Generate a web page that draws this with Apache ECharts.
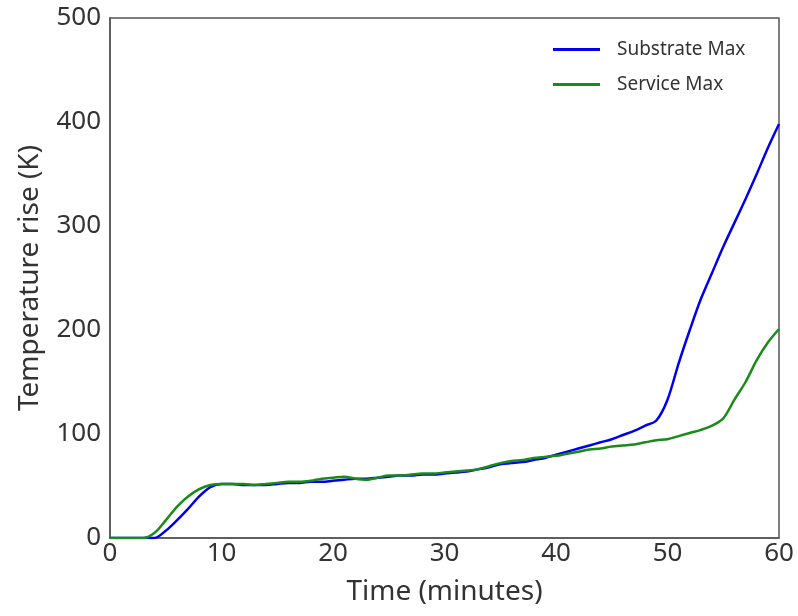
<!DOCTYPE html>
<html>
<head>
<meta charset="utf-8">
<script src="https://cdn.jsdelivr.net/npm/echarts@6/dist/echarts.min.js"></script>
<style>
  html, body { margin: 0; padding: 0; background: #fff; }
  #chart { width: 798px; height: 616px; }
</style>
</head>
<body>
<div id="chart"></div>
<script>
// time in minutes
const minutes = [0, 1, 2, 3, 4, 5, 6, 7, 8, 9, 10, 11, 12, 13, 14, 15, 16, 17, 18, 19, 20,
  21, 22, 23, 24, 25, 26, 27, 28, 29, 30, 31, 32, 33, 34, 35, 36, 37, 38, 39, 40,
  41, 42, 43, 44, 45, 46, 47, 48, 49, 50, 51, 52, 53, 54, 55, 56, 57, 58, 59, 60]

// temperature rise (K)
const substrateMax = [0, 0, 0, 0, 0, 7, 17, 28, 40, 49, 52, 52, 51, 51, 51, 52, 53, 53, 54, 54, 55,
  56, 57, 57, 58, 59, 60, 60, 61, 61, 62, 63, 64, 66, 68, 71, 72, 73, 75, 77, 80,
  83, 86, 89, 92, 95, 99, 103, 108, 113, 133, 168, 200, 230, 255, 280, 303, 326, 350, 375, 398]

const serviceMax = [0, 0, 0, 0, 5, 17, 30, 40, 47, 51, 52, 52, 52, 51, 52, 53, 54, 54, 55, 57, 58,
  59, 57, 56, 58, 60, 60, 61, 62, 62, 63, 64, 65, 66, 69, 72, 74, 75, 77, 78, 79,
  81, 83, 85, 86, 88, 89, 90, 92, 94, 95, 98, 101, 104, 108, 115, 133, 150, 171, 188, 201]

const xTicks = [0, 10, 20, 30, 40, 50, 60]
const yTicks = [0, 100, 200, 300, 400, 500]

const font = 'Noto Sans'
const chart = echarts.init(document.getElementById('chart'))

const toPairs = (ys) => minutes.map((m, i) => [m, ys[i]])

chart.setOption({
  animation: false,
  backgroundColor: '#fff',
  grid: {
    left: 110,
    right: 19,
    top: 18,
    bottom: 78,
    show: true,
    borderColor: '#555',
    borderWidth: 1.5
  },
  legend: {
    left: 548,
    top: 35,
    orient: 'vertical',
    itemWidth: 47,
    itemHeight: 3,
    itemGap: 16,
    icon: 'rect',
    textStyle: { fontFamily: font, fontSize: 19, color: '#333', padding: [0, 0, 0, 12] },
    data: ['Substrate Max', 'Service Max']
  },
  xAxis: {
    type: 'value',
    min: xTicks[0],
    max: xTicks[xTicks.length - 1],
    interval: 10,
    name: 'Time (minutes)',
    nameLocation: 'middle',
    nameGap: 40,
    nameTextStyle: { fontFamily: font, fontSize: 28, color: '#333' },
    axisLine: { show: true, lineStyle: { color: '#555', width: 1.5 } },
    axisTick: { show: false },
    splitLine: { show: false },
    axisLabel: { fontFamily: font, fontSize: 26, color: '#333', margin: 3 }
  },
  yAxis: {
    type: 'value',
    min: yTicks[0],
    max: yTicks[yTicks.length - 1],
    interval: 100,
    name: 'Temperature rise (K)',
    nameLocation: 'middle',
    nameGap: 66,
    nameTextStyle: { fontFamily: font, fontSize: 28, color: '#333' },
    axisLine: { show: true, lineStyle: { color: '#555', width: 1.5 } },
    axisTick: { show: false },
    splitLine: { show: false },
    axisLabel: { fontFamily: font, fontSize: 26, color: '#333', margin: 9 }
  },
  series: [
    {
      name: 'Substrate Max',
      type: 'line',
      showSymbol: false,
      smooth: 0.3,
      data: toPairs(substrateMax),
      itemStyle: { color: '#0000ee' },
      lineStyle: { color: '#0000ee', width: 2.5 },
      z: 2
    },
    {
      name: 'Service Max',
      type: 'line',
      showSymbol: false,
      smooth: 0.3,
      data: toPairs(serviceMax),
      itemStyle: { color: '#1a8a1a' },
      lineStyle: { color: '#1a8a1a', width: 2.5 },
      z: 3
    }
  ]
})
</script>
</body>
</html>
